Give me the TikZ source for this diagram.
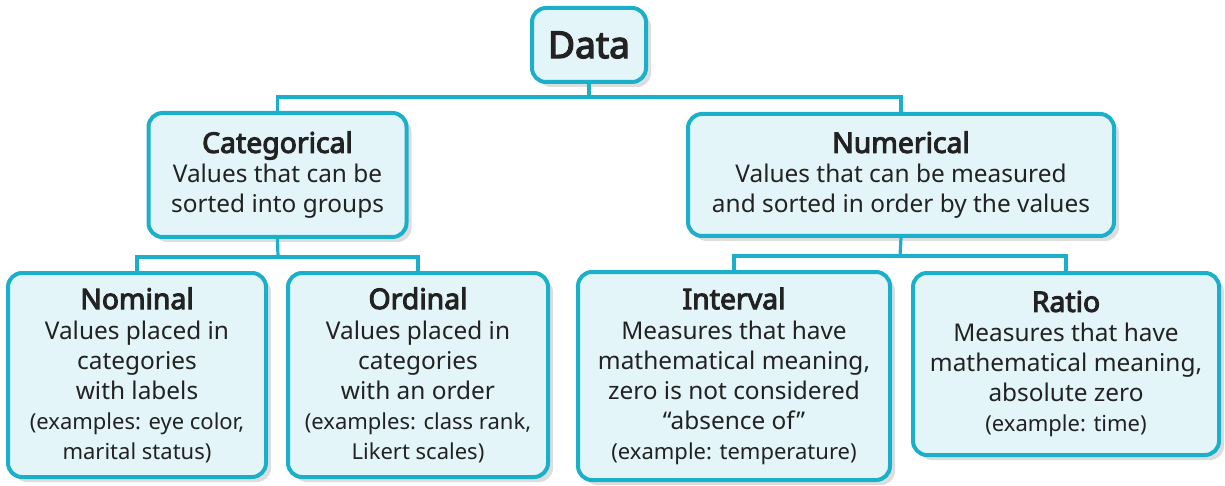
\documentclass[tikz,border=0pt]{standalone}
\usepackage{fontspec}
\setmainfont{Noto Sans}[AutoFakeBold=3.6]
\usetikzlibrary{shadows}
\definecolor{boxline}{HTML}{1AB0C9}
\definecolor{boxfill}{HTML}{E4F5FA}
\definecolor{txt}{HTML}{222222}
\newcommand{\ttlf}{\bfseries\fontsize{14.2}{15}\selectfont}
\newcommand{\exf}{\fontsize{11}{15}\selectfont}
\begin{document}
\begin{tikzpicture}[x=0.5pt,y=-0.5pt,
  box/.style={draw=boxline, line width=2pt, fill=boxfill, rounded corners=7pt,
    align=center, text=txt, inner sep=0pt, font=\fontsize{12.2}{15}\selectfont,
    drop shadow={shadow xshift=2.5pt, shadow yshift=-2.5pt, opacity=0.22, fill=black!60}},
  conn/.style={draw=boxline, line width=1.6pt}]
\useasboundingbox (0,0) rectangle (1225,486);
% nodes
\node[box, minimum width=57pt, minimum height=37pt] (data) at (589,45)
  {\bfseries\fontsize{18.5}{20}\selectfont Data};
\node[box, minimum width=129pt, minimum height=62pt] (cat) at (277.5,175)
  {{\ttlf Categorical}\\Values that can be\\sorted into groups};
\node[box, minimum width=213pt, minimum height=61pt] (num) at (901,175)
  {{\ttlf Numerical}\\Values that can be measured\\and sorted in order by the values};
\node[box, minimum width=129pt, minimum height=102pt] (nom) at (137,375)
  {{\ttlf Nominal}\\Values placed in\\categories\\with labels\\{\exf(examples: eye color,}\\{\exf marital status)}};
\node[box, minimum width=130pt, minimum height=102pt] (ord) at (418,375)
  {{\ttlf Ordinal}\\Values placed in\\categories\\with an order\\{\exf(examples: class rank,}\\{\exf Likert scales)}};
\node[box, minimum width=156pt, minimum height=104pt] (int) at (734,376)
  {{\ttlf Interval}\\Measures that have\\mathematical meaning,\\zero is not considered\\“absence of”\\{\exf(example: temperature)}};
\node[box, minimum width=153pt, minimum height=91pt] (rat) at (1066,364)
  {{\ttlf Ratio}\\Measures that have\\mathematical meaning,\\absolute zero\\{\exf(example: time)}};
% junction coordinates
\coordinate (j0) at (589,97);
\coordinate (j1) at (278,257);
\coordinate (j2) at (900,256);
% connectors
\draw[conn] (data.south) -- (j0);
\draw[conn] (cat.north) |- (j0) -| (num.north);
\draw[conn] (cat.south) -- (j1);
\draw[conn] (nom.north) |- (j1) -| (ord.north);
\draw[conn] (num.south) -- (j2);
\draw[conn] (int.north) |- (j2) -| (rat.north);
\end{tikzpicture}
\end{document}
